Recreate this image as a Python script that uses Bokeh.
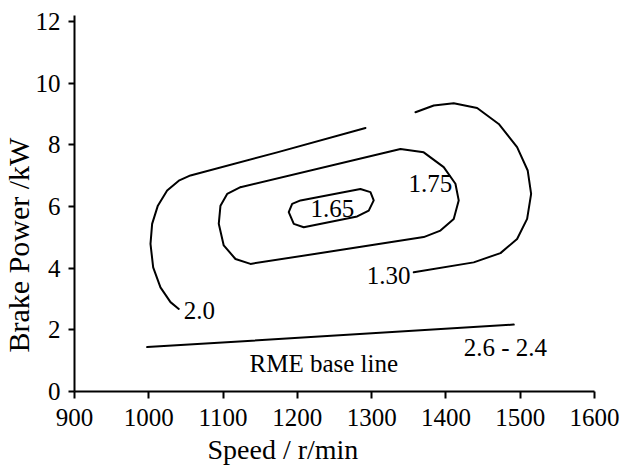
from bokeh.plotting import figure
from bokeh.models import Range1d, FixedTicker, Label, Title
from bokeh.embed import file_html
from bokeh.resources import INLINE

FONT = "Liberation Serif"

# Axis ticks
x_ticks = [900, 1000, 1100, 1200, 1300, 1400, 1500, 1600]
y_ticks = [0, 2, 4, 6, 8, 10, 12]

# Iso-lines (speed r/min, brake power kW)
c20_speed = [1291.7, 1172.8, 1056.1, 1040.4, 1024.7, 1012.2, 1004.5, 1002.3, 1005.9, 1015.7, 1029.2, 1040.4]
c20_power = [8.55, 7.76, 7.01, 6.84, 6.52, 6.03, 5.44, 4.79, 4.03, 3.38, 2.90, 2.68]

c130_speed = [1359.0, 1383.6, 1410.5, 1442.0, 1471.1, 1495.8, 1510.1, 1514.7, 1509.3, 1495.8, 1473.4, 1437.4, 1356.7]
c130_power = [9.06, 9.28, 9.35, 9.20, 8.68, 7.93, 7.17, 6.41, 5.60, 4.95, 4.49, 4.19, 3.87]

c175_speed = [1123.4, 1338.8, 1370.1, 1397.0, 1412.8, 1417.2, 1410.5, 1392.6, 1370.1, 1136.9, 1116.7, 1100.9, 1094.2, 1096.5, 1105.5, 1123.4]
c175_power = [6.63, 7.87, 7.76, 7.28, 6.74, 6.20, 5.60, 5.22, 5.01, 4.14, 4.30, 4.74, 5.44, 6.03, 6.41, 6.63]

c165_speed = [1204.2, 1284.9, 1298.4, 1302.8, 1296.1, 1280.5, 1208.6, 1195.2, 1188.4, 1193.0, 1204.2]
c165_power = [6.20, 6.57, 6.47, 6.20, 5.87, 5.68, 5.33, 5.44, 5.82, 6.09, 6.20]

base_speed = [997.8, 1491.3]
base_power = [1.44, 2.17]

p = figure(width=631, height=472, output_backend="svg", toolbar_location=None,
           x_range=Range1d(900, 1600), y_range=Range1d(0, 12.2),
           min_border_left=74, min_border_right=37, min_border_top=15, min_border_bottom=81)
p.outline_line_color = None
p.xgrid.visible = False
p.ygrid.visible = False
p.background_fill_color = "white"
p.border_fill_color = "white"

for ax, ticks, tick_len, standoff in ((p.xaxis[0], x_ticks, 7, 10), (p.yaxis[0], y_ticks, 6, 8)):
    ax.ticker = FixedTicker(ticks=ticks)
    ax.axis_line_color = "black"
    ax.axis_line_width = 2
    ax.major_tick_line_color = "black"
    ax.major_tick_line_width = 2
    ax.major_tick_in = 0
    ax.major_tick_out = tick_len
    ax.minor_tick_line_color = None
    ax.major_label_text_font = FONT
    ax.major_label_text_font_size = "25px"
    ax.major_label_text_color = "black"
    ax.major_label_standoff = standoff

line_kw = dict(line_color="black", line_width=2, line_join="round", line_cap="round")
p.line(c20_speed, c20_power, **line_kw)
p.line(c130_speed, c130_power, **line_kw)
p.line(c175_speed, c175_power, **line_kw)
p.line(c165_speed, c165_power, **line_kw)
p.line(base_speed, base_power, **line_kw)

def note(x, y, text, align="left"):
    p.add_layout(Label(x=x, y=y, text=text, text_font=FONT, text_font_size="25px",
                       text_color="black", text_align=align, text_baseline="middle"))

note(1047.1, 2.63, "2.0")
note(1352.2, 3.76, "1.30", align="right")
note(1408.4, 6.76, "1.75", align="right")
note(1217.6, 5.93, "1.65")
note(1235.6, 0.91, "RME base line", align="center")
note(1424.0, 1.44, "2.6 - 2.4")

# Axis titles, placed as side titles so they can sit off-centre
p.add_layout(Title(text="Speed / r/min", align="left", offset=133, standoff=7,
                   text_font=FONT, text_font_size="28px", text_font_style="normal",
                   text_color="black", text_line_height=1.0), "below")
p.add_layout(Title(text="Brake Power /kW", align="left", offset=39, standoff=-5,
                   text_font=FONT, text_font_size="30px", text_font_style="normal",
                   text_color="black", text_line_height=1.0), "left")

open("out.html", "w").write(file_html(p, INLINE))
